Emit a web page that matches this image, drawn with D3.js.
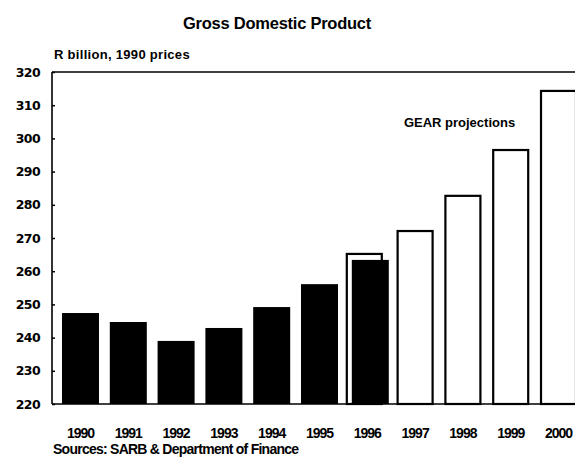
<!DOCTYPE html>
<html>
<head>
<meta charset="utf-8">
<script src="https://cdn.jsdelivr.net/npm/d3@7"></script>
<style>
  html, body { margin: 0; padding: 0; background: #fff; }
  svg { display: block; }
  text { font-family: "Liberation Sans", Arial, sans-serif; font-weight: bold; fill: #000; }
</style>
</head>
<body>
<svg id="chart" width="575" height="466"></svg>
<script>
// GDP, R billion at 1990 prices
const years = ["1990", "1991", "1992", "1993", "1994", "1995", "1996", "1997", "1998", "1999", "2000"];
const actual = [247.4, 244.7, 239.0, 242.9, 249.2, 256.1, 263.4, null, null, null, null];
const projected = [null, null, null, null, null, null, 265.2, 272.1, 282.7, 296.5, 314.3];
const yTicks = [220, 230, 240, 250, 260, 270, 280, 290, 300, 310, 320];

const svg = d3.select("#chart");
const plotLeft = 52, plotTop = 72, plotBottom = 404;

const x = d3.scaleBand().domain(years).range([52, 587]).paddingInner(0.226).paddingOuter(0.209);
const y = d3.scaleLinear().domain([220, 320]).range([plotBottom, plotTop]);

// where actual and projected overlap (1996) the two bars are offset from each other
const overlap = 3;

// title and unit label
svg.append("text").attr("x", 277).attr("y", 29).attr("text-anchor", "middle")
  .style("font-size", "16.5px").style("letter-spacing", "-0.25px").text("Gross Domestic Product");
svg.append("text").attr("x", 54).attr("y", 59)
  .style("font-size", "13px").style("letter-spacing", "0.3px").text("R billion, 1990 prices");

const plot = svg.append("g");

// projection bars (outlined)
plot.append("g").selectAll("rect").data(years.map((d, i) => ({ year: d, v: projected[i], a: actual[i] })).filter(d => d.v != null))
  .join("rect")
  .attr("x", d => x(d.year) + (d.a != null ? -overlap : 0) + 1)
  .attr("y", d => y(d.v))
  .attr("width", x.bandwidth() - 2)
  .attr("height", d => y(220) - y(d.v))
  .attr("fill", "#fff").attr("stroke", "#000").attr("stroke-width", 2.2);

// actual bars (solid)
plot.append("g").selectAll("rect").data(years.map((d, i) => ({ year: d, v: actual[i], p: projected[i] })).filter(d => d.v != null))
  .join("rect")
  .attr("x", d => x(d.year) + (d.p != null ? overlap : 0))
  .attr("y", d => y(d.v))
  .attr("width", x.bandwidth())
  .attr("height", d => y(220) - y(d.v))
  .attr("fill", "#000");

// frame: left axis, top and bottom rules
svg.append("line").attr("x1", plotLeft).attr("x2", 575).attr("y1", plotTop).attr("y2", plotTop)
  .attr("stroke", "#000").attr("stroke-width", 1.6);
svg.append("line").attr("x1", plotLeft).attr("x2", 575).attr("y1", plotBottom).attr("y2", plotBottom)
  .attr("stroke", "#000").attr("stroke-width", 1.6);

const yAxis = d3.axisLeft(y).tickValues(yTicks).tickSize(-3).tickPadding(12).tickFormat(d3.format("d"));
const gy = svg.append("g").attr("transform", `translate(${plotLeft},0)`).call(yAxis);
gy.select(".domain").attr("stroke-width", 1.6).attr("d", `M0,${plotBottom}V${plotTop}`);
gy.selectAll(".tick line").attr("stroke-width", 1.5);
gy.selectAll("text").attr("font-family", null).attr("font-size", null)
  .style("font-family", "'DejaVu Sans', sans-serif").style("font-size", "12.5px").style("letter-spacing", "-0.6px");

const xAxis = d3.axisBottom(x).tickSize(0).tickPadding(24);
const gx = svg.append("g").attr("transform", `translate(0,${plotBottom})`).call(xAxis);
gx.select(".domain").remove();
gx.selectAll("text").attr("font-family", null).attr("font-size", null)
  .attr("dy", null).attr("y", 34)
  .style("font-size", "14px").style("letter-spacing", "-1px");

svg.append("text").attr("x", 459.5).attr("y", 127).attr("text-anchor", "middle")
  .style("font-size", "13px").style("letter-spacing", "0px").text("GEAR projections");

svg.append("text").attr("x", 53).attr("y", 454)
  .style("font-size", "14px").style("letter-spacing", "-0.75px").text("Sources: SARB & Department of Finance");
</script>
</body>
</html>
